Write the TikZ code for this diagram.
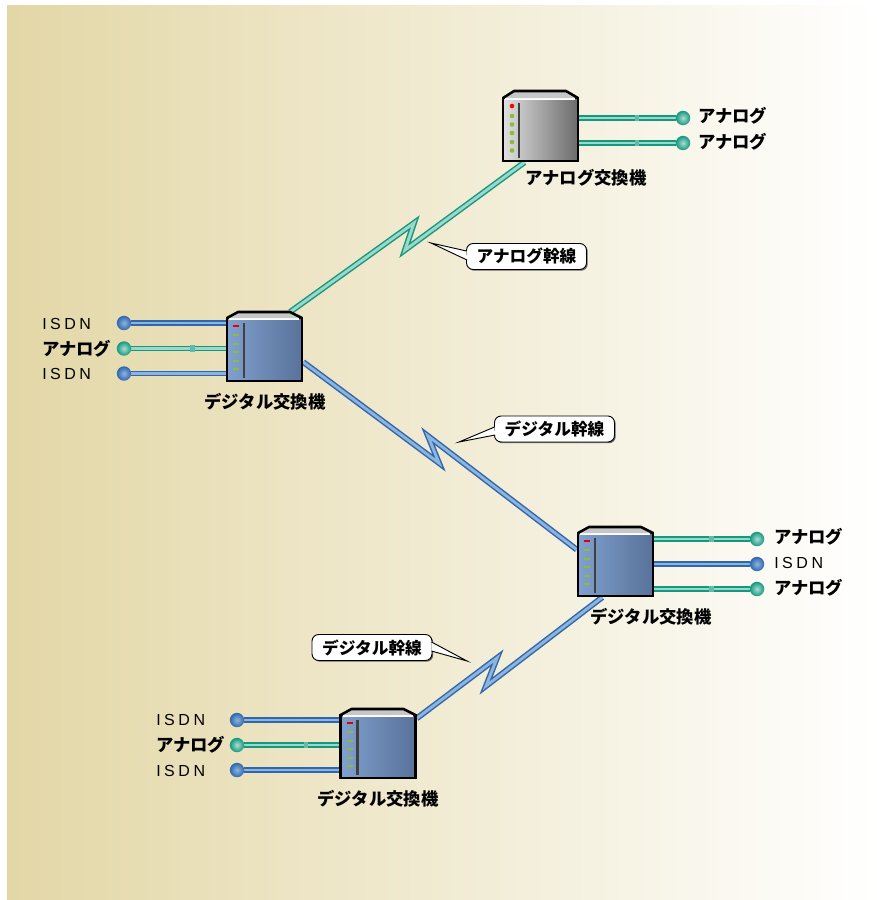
\documentclass[tikz,border=0pt]{standalone}
\usepackage{fontspec}
\usetikzlibrary{backgrounds,shadows}
\newfontfamily\cjk{Noto Sans CJK JP}
\newfontfamily\isdnfont[LetterSpace=22]{Liberation Sans}
\definecolor{teal1}{HTML}{12997F}
\definecolor{teal2}{HTML}{9FD6CA}
\definecolor{blue1}{HTML}{2F67AE}
\definecolor{blue2}{HTML}{8FB4DC}
\definecolor{swleft}{HTML}{80A0CE}
\definecolor{swright}{HTML}{58729A}
\definecolor{ledgreen}{HTML}{8DBB3C}
\definecolor{bgleft}{HTML}{E3D7A6}
\tikzset{
	analogline/.style={line width=1.1pt, draw=teal1, double=teal2, double distance=2.2pt, miter limit=10},
	isdnline/.style={line width=1.1pt, draw=blue1, double=blue2, double distance=2.2pt, miter limit=10},
	linemark/.style={fill=teal2!55!teal1, minimum width=3.6pt, minimum height=4.6pt, inner sep=0pt},
	analogball/.style={circle, minimum size=10.8pt, inner sep=0pt, inner color=teal2!85!white, outer color=teal1},
	isdnball/.style={circle, minimum size=10.8pt, inner sep=0pt, inner color=blue2, outer color=blue1},
	termtext/.style={font=\cjk\bfseries\fontsize{13}{14}\selectfont, inner sep=0pt},
	isdntext/.style={font=\isdnfont\fontsize{12}{14}\selectfont, inner sep=0pt},
	calltext/.style={font=\cjk\bfseries\fontsize{12.5}{14}\selectfont, draw=black, line width=.7pt, fill=white, rounded corners=5pt, minimum width=90pt, minimum height=19.5pt, inner sep=0pt, drop shadow={shadow xshift=.9pt, shadow yshift=-.9pt, fill=black!60, opacity=1}},
	calltail/.style={line width=.7pt, fill=white},
	digitalsw/.pic={
		\node[draw, line width=1.9pt, left color=swleft, right color=swright, minimum width=56.25pt, minimum height=47.25pt, inner sep=0pt] (-body) at (0,0) {};
		\draw[white, line width=2.2pt] (-35.5,-30.5) -- (34.5,-30.5);
		\fill[black!22] (-37.5,-31.5) -- (-26.5,-37.5) -- (25.5,-37.5) -- (37.5,-31.5) -- cycle;
		\draw[line width=1.9pt, line join=round] (-37.5,-31.5) -- (-26.5,-37.5) -- (25.5,-37.5) -- (37.5,-31.5);
		\coordinate (-tr) at (25.5,-37.5);
		\draw[black!75, line width=1.6pt] (-20.5,-26.5) -- (-20.5,28.5);
		\fill[red!90!black] (-31.5,-24.5) rectangle (-25.5,-22.5);
		\foreach \ledy in {-14.5,-6,2.5,11,19.5}
			\fill[ledgreen] (-31.5,\ledy-1) rectangle (-25.5,\ledy+1);
	},
	analogsw/.pic={
		\node[draw, line width=1.9pt, left color=black!12, right color=black!58, minimum width=56.25pt, minimum height=47.25pt, inner sep=0pt] (-body) at (0,0) {};
		\draw[white, line width=2.2pt] (-35.5,-30.5) -- (34.5,-30.5);
		\fill[black!22] (-37.5,-31.5) -- (-26.5,-38.5) -- (25.5,-38.5) -- (37.5,-31.5) -- cycle;
		\draw[line width=1.9pt, line join=round] (-37.5,-31.5) -- (-26.5,-38.5) -- (25.5,-38.5) -- (37.5,-31.5);
		\draw[black!75, line width=1.6pt] (-21.5,-26.5) -- (-21.5,28.5);
		\fill[red] (-28.5,-23.5) circle (2.3);
		\foreach \ledy in {-13.5,-5,3.5,12.5,21}
			\fill[ledgreen] (-28.5,\ledy) circle (2.3);
	}
}
\begin{document}
\begin{tikzpicture}[x=0.75pt, y=-0.75pt]
	\useasboundingbox (0,0) rectangle (877,900);
	
	\pic (sw0) at (540.5,129.5) {analogsw};
	\pic (sw1) at (264.5,349.5) {digitalsw};
	\pic (sw2) at (615.5,564.5) {digitalsw};
	\pic (sw3) at (378,746.5) {digitalsw};
	
	\node[analogball] (a1) at (683,118) {};
	\node[analogball] (a2) at (683,143) {};
	\node[isdnball] (b1) at (124,323) {};
	\node[analogball] (b2) at (124,348.5) {};
	\node[isdnball] (b3) at (124,373.5) {};
	\node[analogball] (c1) at (757,539) {};
	\node[isdnball] (c2) at (757,564) {};
	\node[analogball] (c3) at (757,589) {};
	\node[isdnball] (d1) at (237,720) {};
	\node[analogball] (d2) at (237,745) {};
	\node[isdnball] (d3) at (237,770) {};
	
	\node[termtext, anchor=west] (ta1) at (698,116) {アナログ};
	\node[termtext, anchor=west] (ta2) at (698,142) {アナログ};
	\node[isdntext, anchor=west] (tb1) at (42,324) {ISDN};
	\node[termtext, anchor=west] (tb2) at (42,349) {アナログ};
	\node[isdntext, anchor=west] (tb3) at (42,374) {ISDN};
	\node[termtext, anchor=west] (tc1) at (774,537) {アナログ};
	\node[isdntext, anchor=west] (tc2) at (774,563) {ISDN};
	\node[termtext, anchor=west] (tc3) at (774,588) {アナログ};
	\node[isdntext, anchor=west] (td1) at (156,720) {ISDN};
	\node[termtext, anchor=west] (td2) at (156,745) {アナログ};
	\node[isdntext, anchor=west] (td3) at (156,771) {ISDN};
	
	\node[termtext] (n0) at (586,178) {アナログ交換機};
	\node[termtext] (n1) at (265,402) {デジタル交換機};
	\node[termtext] (n2) at (651,617) {デジタル交換機};
	\node[termtext] (n3) at (378,799) {デジタル交換機};
	
	\node[calltext] (k1) at (526.5,256.5) {アナログ幹線};
	\node[calltext] (k2) at (554.5,429) {デジタル幹線};
	\node[calltext] (k3) at (372,647.5) {デジタル幹線};
	
	\coordinate (p1) at (431,243);
	\coordinate (p2) at (459,442);
	\coordinate (p3) at (467,661);
	\draw[calltail] (466.5,251) -- (p1) -- (467,260);
	\draw[calltail] (494.5,427) -- (p2) -- (495,435);
	\draw[calltail] (431.5,642) -- (p3) -- (431.5,651);
	
	\begin{scope}[on background layer]
		\shade[left color=bgleft, right color=white] (7,5) rectangle (877,900);
		
		\coordinate (z1) at (414,223);
		\coordinate (z2) at (405,250);
		\coordinate (z3) at (439,463);
		\coordinate (z4) at (428,436);
		\coordinate (z5) at (497,658);
		\coordinate (z6) at (486,686);
		\draw[analogline] (sw1-tr) -- (z1) -- (z2) -- (sw0-body.244);
		\draw[isdnline] (sw1-body.342) -- (z3) -- (z4) -- (sw2-body.159);
		\draw[isdnline] (sw3-body.36) -- (z5) -- (z6) -- (sw2-body.248);
		
		\draw[analogline] (a1) to node[linemark, pos=.4] (m1) {} (a1 -| sw0-body.east);
		\draw[analogline] (a2) to node[linemark, pos=.4] (m2) {} (a2 -| sw0-body.east);
		\draw[isdnline] (b1) to (b1 -| sw1-body.west);
		\draw[analogline] (b2) to node[linemark, pos=.65] (m3) {} (b2 -| sw1-body.west);
		\draw[isdnline] (b3) to (b3 -| sw1-body.west);
		\draw[analogline] (c1) to node[linemark, pos=.4] (m4) {} (c1 -| sw2-body.east);
		\draw[isdnline] (c2) to (c2 -| sw2-body.east);
		\draw[analogline] (c3) to node[linemark, pos=.4] (m5) {} (c3 -| sw2-body.east);
		\draw[isdnline] (d1) to (d1 -| sw3-body.west);
		\draw[analogline] (d2) to node[linemark, pos=.65] (m6) {} (d2 -| sw3-body.west);
		\draw[isdnline] (d3) to (d3 -| sw3-body.west);
	\end{scope}
\end{tikzpicture}
\end{document}
